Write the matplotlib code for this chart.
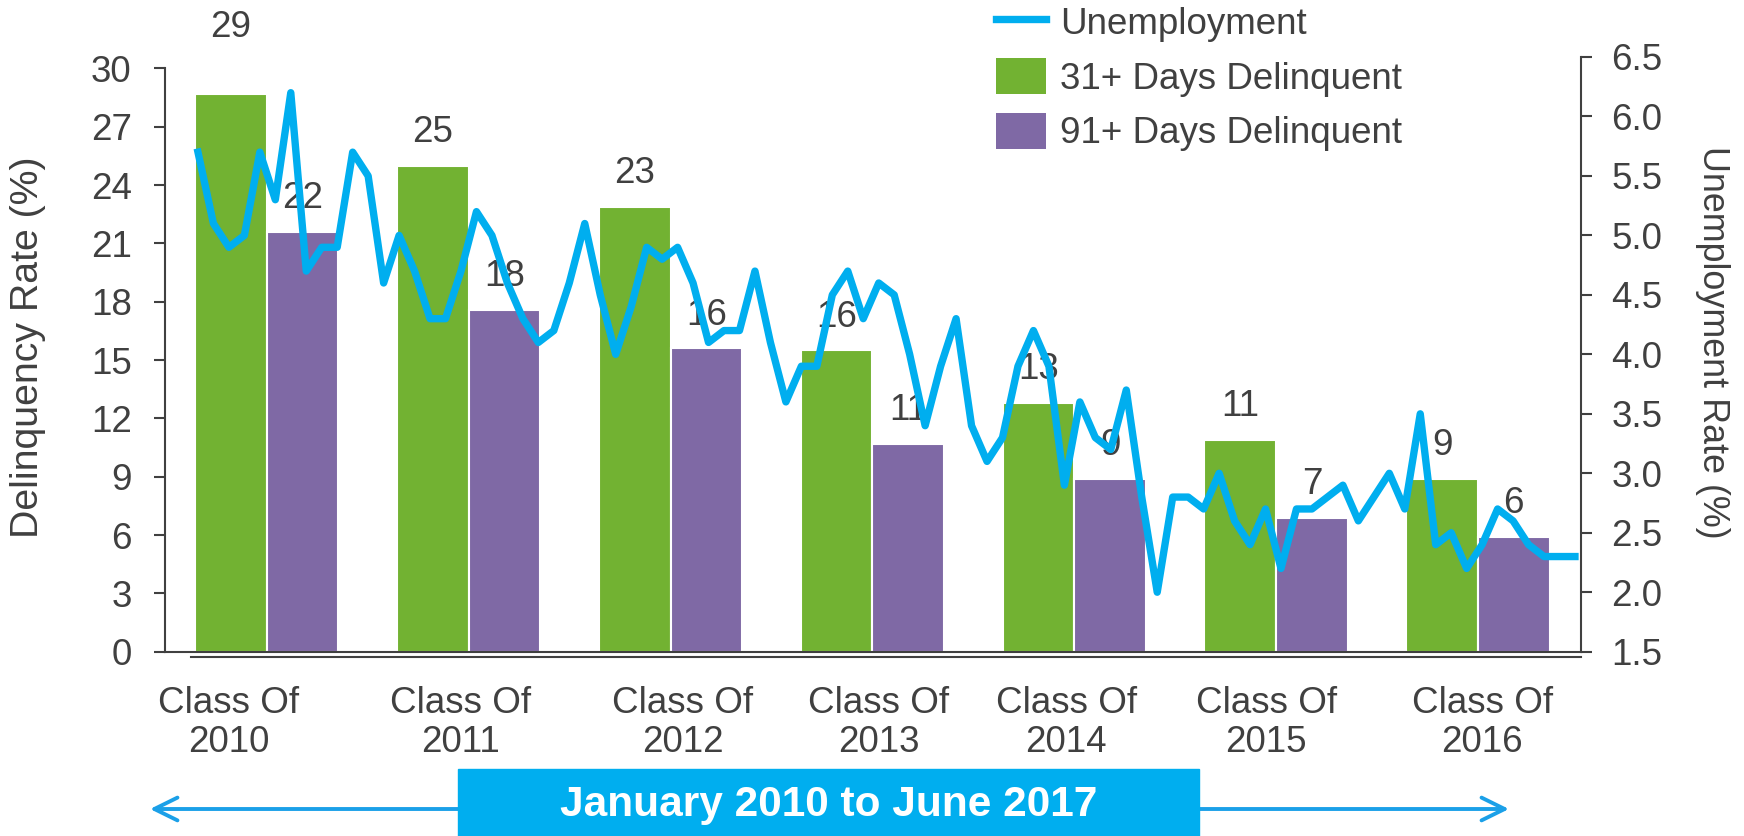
import matplotlib
matplotlib.use("Agg")
import matplotlib.pyplot as plt
import numpy as np
from matplotlib.lines import Line2D
from matplotlib.patches import Patch, Rectangle, FancyArrowPatch

plt.rcParams["font.family"] = ["Liberation Sans", "DejaVu Sans"]

classes = ["Class Of\n2010", "Class Of\n2011", "Class Of\n2012", "Class Of\n2013",
           "Class Of\n2014", "Class Of\n2015", "Class Of\n2016"]
delinq_31 = [28.7, 25.0, 22.9, 15.5, 12.8, 10.9, 8.9]
delinq_91 = [21.6, 17.6, 15.6, 10.7, 8.9, 6.9, 5.9]
labels_31 = [29, 25, 23, 16, 13, 11, 9]
labels_91 = [22, 18, 16, 11, 9, 7, 6]

# monthly unemployment rate, Jan 2010 .. Jun 2017
unemployment = [
    5.7, 5.1, 4.9, 5.0, 5.7, 5.3, 6.2, 4.7, 4.9, 4.9, 5.7, 5.5,   # 2010
    4.6, 5.0, 4.7, 4.3, 4.3, 4.7, 5.2, 5.0, 4.6, 4.3, 4.1, 4.2,   # 2011
    4.6, 5.1, 4.5, 4.0, 4.4, 4.9, 4.8, 4.9, 4.6, 4.1, 4.2, 4.2,   # 2012
    4.7, 4.1, 3.6, 3.9, 3.9, 4.5, 4.7, 4.3, 4.6, 4.5, 4.0, 3.4,   # 2013
    3.9, 4.3, 3.4, 3.1, 3.3, 3.9, 4.2, 3.9, 2.9, 3.6, 3.3, 3.2,   # 2014
    3.7, 2.8, 2.0, 2.8, 2.8, 2.7, 3.0, 2.6, 2.4, 2.7, 2.2, 2.7,   # 2015
    2.7, 2.8, 2.9, 2.6, 2.8, 3.0, 2.7, 3.5, 2.4, 2.5, 2.2, 2.4,   # 2016
    2.7, 2.6, 2.4, 2.3, 2.3, 2.3,                                 # 2017
]
legend_labels = ["Unemployment", "31+ Days Delinquent", "91+ Days Delinquent"]
period_text = "January 2010 to June 2017"

GREEN = "#72B232"
PURPLE = "#7F69A5"
BLUE = "#00AEEF"
ARROW = "#1BA0E8"
GREY = "#404040"
FS = 26.5

fig = plt.figure(figsize=(17.44, 8.36), dpi=100)
W, H = 1744, 836
rect = [165 / W, 1 - 651.7 / H, (1581 - 165) / W, (651.7 - 57) / H]

# bars
ax = fig.add_axes(rect)
x = np.arange(len(classes))
w = 0.355
ax.bar(x - w / 2, delinq_31, w, color=GREEN, edgecolor="white", linewidth=1.5)
ax.bar(x + w / 2, delinq_91, w, color=PURPLE, edgecolor="white", linewidth=1.5)
for xi, v, lb in zip(x, delinq_31, labels_31):
    dy = 48 if v == max(delinq_31) else 24
    ax.annotate(str(lb), (xi - w / 2, v), xytext=(0, dy), textcoords="offset points",
                ha="center", va="center", fontsize=FS, color=GREY)
for xi, v, lb in zip(x, delinq_91, labels_91):
    ax.annotate(str(lb), (xi + w / 2, v), xytext=(0, 24), textcoords="offset points",
                ha="center", va="center", fontsize=FS, color=GREY)

ax.set_xlim(-0.504, 6.51)
ax.set_ylim(0, 30.59)
ax.set_yticks(np.arange(0, 31, 3))
shift = [-0.19, -0.04, 0.06, 0.03, -0.04, -0.05, 0.02]
ax.set_xticks(x + np.array(shift))
ax.set_xticklabels(classes, linespacing=1.12)
ax.tick_params(axis="x", length=0, pad=25, labelsize=FS, labelcolor=GREY)
ax.tick_params(axis="y", direction="out", length=8, width=1.5, color=GREY,
               pad=16, labelsize=FS, labelcolor=GREY)
for s in ["top", "right"]:
    ax.spines[s].set_visible(False)
for s in ["left", "bottom"]:
    ax.spines[s].set_color(GREY)
    ax.spines[s].set_linewidth(1.5)
ax.spines["left"].set_bounds(0, 30)

# unemployment line on its own monthly axis
ax2 = fig.add_axes(rect, label="unemployment", facecolor="none")
ax2.plot(np.arange(len(unemployment)), unemployment, color=BLUE, lw=5.3)
ax2.set_xlim(-2.13, 89.39)
ax2.set_ylim(1.5, 6.5)
ax2.set_xticks([])
ax2.yaxis.tick_right()
ax2.set_yticks(np.arange(1.5, 6.51, 0.5))
ax2.set_yticklabels([f"{t:.1f}" for t in np.arange(1.5, 6.51, 0.5)])
ax2.tick_params(axis="y", direction="out", length=8, width=1.5, color=GREY,
                pad=14, labelsize=FS, labelcolor=GREY)
for s in ["top", "left"]:
    ax2.spines[s].set_visible(False)
for s in ["right", "bottom"]:
    ax2.spines[s].set_color(GREY)
    ax2.spines[s].set_linewidth(1.5)
ax2.spines["right"].set_bounds(1.5, 6.5)
ax2.spines["bottom"].set_position(("outward", 3.8))
ax2.spines["bottom"].set_bounds(-0.45, 89.39)

fig.text(28 / W, 1 - 347 / H, "Delinquency Rate (%)", rotation=90,
         ha="center", va="center", fontsize=28.3, color=GREY)
fig.text(1712 / W, 1 - 342 / H, "Unemployment Rate (%)", rotation=270,
         ha="center", va="center", fontsize=25.8, color=GREY)

handles = [Line2D([], [], color=BLUE, lw=5.3),
           Patch(facecolor=GREEN), Patch(facecolor=PURPLE)]
fig.legend(handles, legend_labels, loc="upper left", bbox_to_anchor=(992 / W, 1.0),
           frameon=False, fontsize=FS, labelcolor=GREY, handlelength=1.36,
           handleheight=1.1, handletextpad=0.38, labelspacing=0.45,
           borderpad=0.1, borderaxespad=0)

# period banner with double arrow
fig.patches.append(FancyArrowPatch((150 / W, 1 - 809 / H), (1509 / W, 1 - 809 / H),
                                   transform=fig.transFigure,
                                   arrowstyle="<->,head_length=0.83,head_width=0.41",
                                   mutation_scale=20, lw=2.8, color=ARROW,
                                   shrinkA=0, shrinkB=0, capstyle="round",
                                   joinstyle="round"))
fig.patches.append(Rectangle((458 / W, 0), (1199 - 458) / W, (836 - 769) / H,
                             transform=fig.transFigure, color=BLUE, zorder=3))
fig.text(828.5 / W, 1 - 805 / H, period_text, ha="center", va="center",
         fontsize=30.5, fontweight="bold", color="white", zorder=4)

fig.savefig("out.png", dpi=100)
